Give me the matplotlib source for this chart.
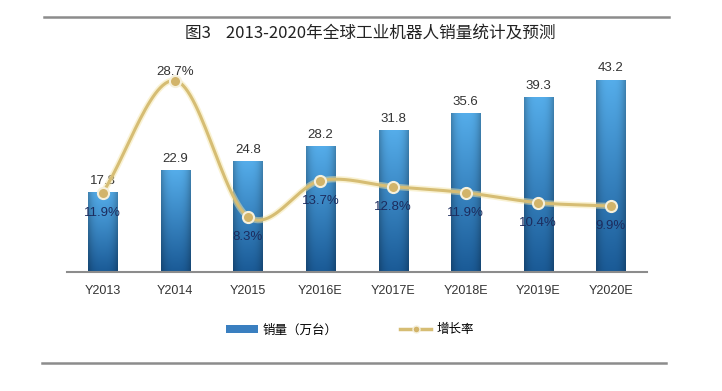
import numpy as np
import matplotlib
matplotlib.use("Agg")
import matplotlib.pyplot as plt
from matplotlib.patches import Patch
from matplotlib.lines import Line2D

plt.rcParams["font.family"] = ["Noto Sans CJK SC", "DejaVu Sans"]

# ── data
years = ["Y2013", "Y2014", "Y2015", "Y2016E", "Y2017E", "Y2018E", "Y2019E", "Y2020E"]
sales = [17.8, 22.9, 24.8, 28.2, 31.8, 35.6, 39.3, 43.2]
growth = [11.9, 28.7, 8.3, 13.7, 12.8, 11.9, 10.4, 9.9]
title = "图3    2013-2020年全球工业机器人销量统计及预测"
legend_labels = ["销量（万台）", "增长率"]

BAR_TOP = "#55adea"
BAR_BOT = "#1a5a96"
LINE_C = "#d6bd74"
PCT_C = "#1c2c5e"
NUM_FONT = ["Liberation Sans", "DejaVu Sans"]


def catmull_rom(x, y, n=30):
    """Smooth curve through the points (like an Excel smoothed line)."""
    x = np.asarray(x, float)
    y = np.asarray(y, float)
    px = np.concatenate([[2 * x[0] - x[1]], x, [2 * x[-1] - x[-2]]])
    py = np.concatenate([[2 * y[0] - y[1]], y, [2 * y[-1] - y[-2]]])
    xs, ys = [], []
    t = np.linspace(0, 1, n)
    for i in range(1, len(px) - 2):
        for p, out in ((px, xs), (py, ys)):
            p0, p1, p2, p3 = p[i - 1], p[i], p[i + 1], p[i + 2]
            out.extend(0.5 * ((2 * p1) + (-p0 + p2) * t
                              + (2 * p0 - 5 * p1 + 4 * p2 - p3) * t ** 2
                              + (-p0 + 3 * p1 - 3 * p2 + p3) * t ** 3))
    return np.array(xs), np.array(ys)


fig = plt.figure(figsize=(7.22, 3.91), dpi=100)
ax = fig.add_axes([66.5 / 722, 119 / 391, 580.5 / 722, 212 / 391])
ax2 = ax.twinx()

x = np.arange(len(years))
width = 0.4

# gradient bars
grad = np.linspace(0, 1, 256)[:, None]
side = 1 - 0.25 * (np.abs(np.linspace(-1, 1, 64)) ** 3)[None, :]
top_rgb = np.array(matplotlib.colors.to_rgb(BAR_TOP))
bot_rgb = np.array(matplotlib.colors.to_rgb(BAR_BOT))
img = (bot_rgb[None, None, :] * grad[..., None] + top_rgb[None, None, :] * (1 - grad[..., None]))
img = img * side[..., None]
bars = ax.bar(x, sales, width=width, color="none", edgecolor="none")
for b in bars:
    x0, y0 = b.get_x(), b.get_y()
    ax.imshow(img, extent=[x0, x0 + b.get_width(), y0, y0 + b.get_height()],
              aspect="auto", zorder=2, interpolation="bilinear")
for xi, v in zip(x, sales):
    ax.annotate(f"{v}", (xi, v), xytext=(0, 4), textcoords="offset points",
                ha="center", va="bottom", fontsize=9.5, color="#333333",
                family=NUM_FONT)

ax.set_xlim(-0.5, len(years) - 0.5)
ax.set_ylim(0, 47.7)
ax.set_xticks(x)
ax.set_xticklabels(years, fontsize=9, color="#333333", family=NUM_FONT)
ax.tick_params(axis="x", length=0, pad=9)
ax.set_yticks([])
for s in ["top", "right", "left"]:
    ax.spines[s].set_visible(False)
ax.spines["bottom"].set_color("#8c8c8c")
ax.spines["bottom"].set_linewidth(1.5)

# smooth growth line
sx, sy = catmull_rom(x, growth)
ax2.plot(sx, sy, color="#f5e6a8", lw=4.5, alpha=0.5, zorder=3, solid_capstyle="round")
ax2.plot(sx, sy, color=LINE_C, lw=2.2, zorder=4, solid_capstyle="round")
ax2.plot(x, growth, "o", ms=8, mfc="#d2b46a", mec="#f5f0dc", mew=1.5, zorder=5)
for i, (xi, g) in enumerate(zip(x, growth)):
    if i == 1:
        ax2.annotate(f"{g}%", (xi, g), xytext=(0, 2), textcoords="offset points",
                     ha="center", va="bottom", fontsize=9.5, color="#333333",
                     family=NUM_FONT)
    else:
        ax2.annotate(f"{g}%", (xi, g), xytext=(0, -10), textcoords="offset points",
                     ha="center", va="top", fontsize=9.5, color=PCT_C,
                     family=NUM_FONT)
ax2.set_ylim(0, 31.8)
ax2.set_yticks([])
for s in ["top", "right", "left", "bottom"]:
    ax2.spines[s].set_visible(False)

# title and frame lines
fig.text(370 / 722, 1 - 33 / 391, title, ha="center", va="center",
         fontsize=12, color="#222222")
fig.add_artist(Line2D([44 / 722, 669 / 722], [1 - 17 / 391] * 2,
                      color="#8c8c8c", lw=1.8))
fig.add_artist(Line2D([42 / 722, 666 / 722], [1 - 363 / 391] * 2,
                      color="#8c8c8c", lw=1.8))

handles = [Patch(facecolor="#3a7fc0", edgecolor="none"),
           Line2D([0], [0], color=LINE_C, lw=2.5, marker="o", ms=5,
                  mfc="#d2b46a", mec="#f5f0dc")]
fig.legend(handles, legend_labels, loc="center", bbox_to_anchor=(350 / 722, 1 - 330 / 391),
           ncol=2, frameon=False, fontsize=9, handlelength=2.5, handleheight=0.6,
           columnspacing=5, handletextpad=0.4)

fig.savefig("out.png", dpi=100)
